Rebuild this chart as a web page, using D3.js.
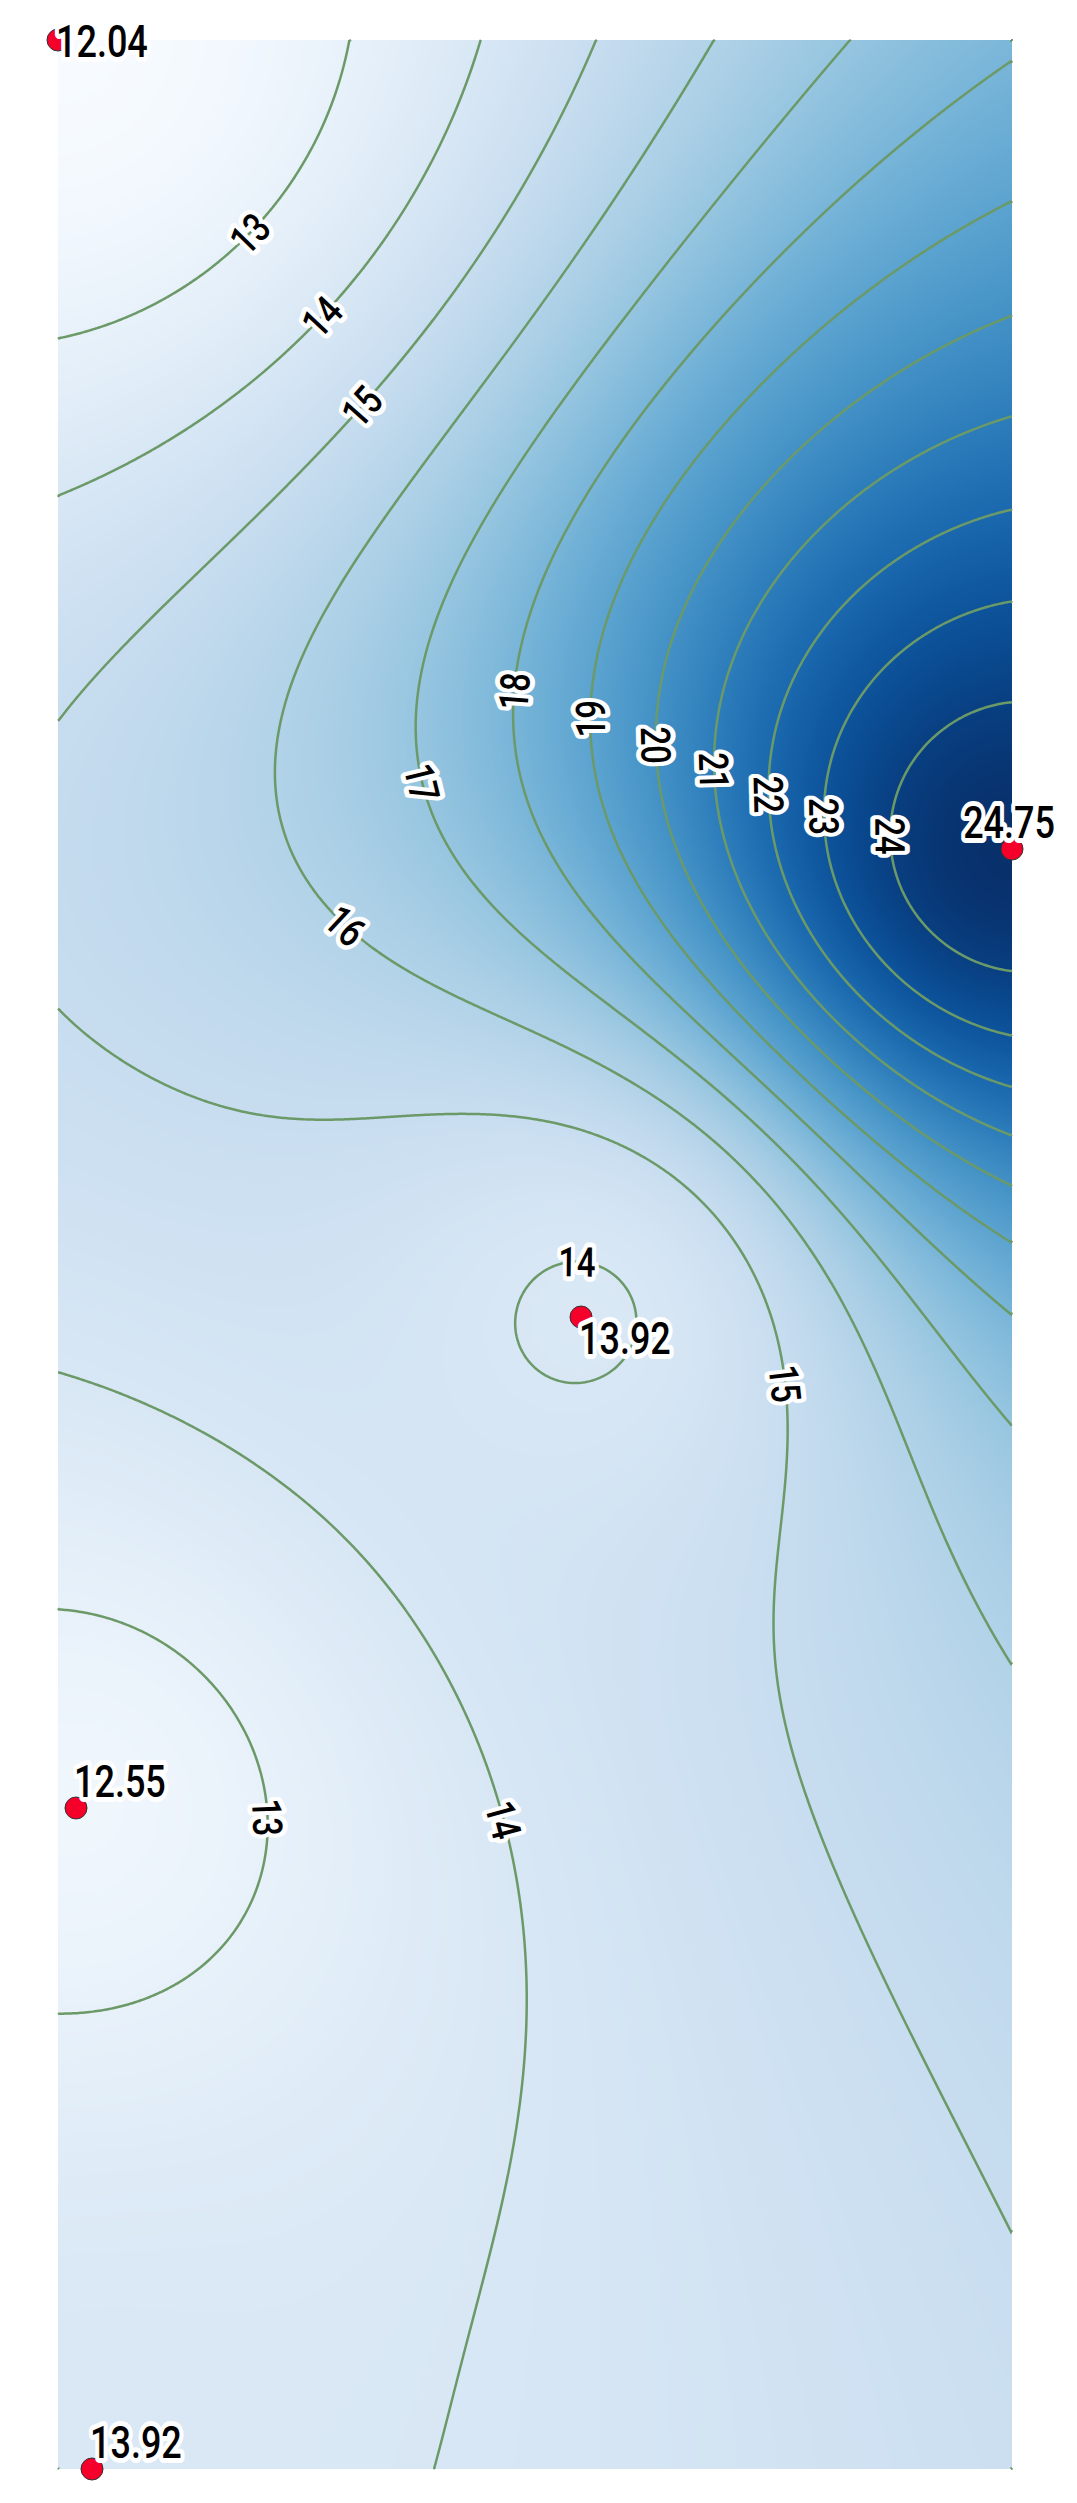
<!DOCTYPE html>
<html>
<head>
<meta charset="utf-8">
<script src="https://cdn.jsdelivr.net/npm/d3@7"></script>
<style>
body { margin: 0; background: #fff; }
svg { display: block; }
.lbl { font-family: "Roboto", "Noto Sans", sans-serif; font-weight: 500; }
</style>
</head>
<body>
<div id="chart"></div>
<script>
// station positions (grid units) and measured values
var stationX = [0, 95.4, 52.3, 1.8, 3.4];
var stationY = [0, 80.9, 127.7, 176.8, 242.9];
var stationValue = [12.04, 24.75, 13.92, 12.55, 13.92];
var levels = [13, 14, 15, 16, 17, 18, 19, 20, 21, 22, 23, 24];

var width = 1077, height = 2503;
var margin = {top: 40, right: 65, bottom: 34, left: 58};
var w = width - margin.left - margin.right,
    h = height - margin.top - margin.bottom;

var x = d3.scaleLinear().domain(d3.extent(stationX)).range([0, w]);
var y = d3.scaleLinear().domain(d3.extent(stationY)).range([0, h]);

var svg = d3.select("#chart").append("svg")
    .attr("width", width)
    .attr("height", height);
var g = svg.append("g")
    .attr("transform", "translate(" + margin.left + "," + margin.top + ")");

var px = stationX.map(function(d) { return x(d); });
var py = stationY.map(function(d) { return y(d); });

// inverse distance weighting, power 2
function idw(qx, qy) {
    var num = 0, den = 0;
    for (var i = 0; i < px.length; i++) {
        var ddx = qx - px[i], ddy = qy - py[i], d2 = ddx * ddx + ddy * ddy;
        if (d2 < 1e-9) return stationValue[i];
        num += stationValue[i] / d2;
        den += 1 / d2;
    }
    return num / den;
}

var cell = 2;
var nx = Math.ceil(w / cell), ny = Math.ceil(h / cell);
var sx = w / nx, sy = h / ny;
var grid = new Array(nx * ny);
for (var j = 0; j < ny; j++) {
    for (var i = 0; i < nx; i++) {
        grid[j * nx + i] = idw((i + 0.5) * sx, (j + 0.5) * sy);
    }
}

// raster background
var ext = d3.extent(stationValue);
var color = d3.scaleSequential(d3.interpolateBlues).domain(ext);
var lut = d3.range(1024).map(function(k) {
    return d3.rgb(color(ext[0] + (ext[1] - ext[0]) * k / 1023));
});
var canvas = document.createElement("canvas");
canvas.width = nx; canvas.height = ny;
var ctx = canvas.getContext("2d");
var img = ctx.createImageData(nx, ny);
for (var k = 0; k < grid.length; k++) {
    var t = (grid[k] - ext[0]) / (ext[1] - ext[0]);
    var c = lut[Math.max(0, Math.min(1023, Math.round(t * 1023)))];
    img.data[4 * k] = c.r;
    img.data[4 * k + 1] = c.g;
    img.data[4 * k + 2] = c.b;
    img.data[4 * k + 3] = 255;
}
ctx.putImageData(img, 0, 0);

g.append("image")
    .attr("href", canvas.toDataURL())
    .attr("width", w)
    .attr("height", h)
    .attr("preserveAspectRatio", "none");

// contour rings -> open lines (drop the parts running along the grid edge)
var contours = d3.contours().size([nx, ny]).thresholds(levels)(grid);

function onEdge(a, b) {
    return (a[0] === 0 && b[0] === 0) || (a[0] === nx && b[0] === nx) ||
           (a[1] === 0 && b[1] === 0) || (a[1] === ny && b[1] === ny);
}

function splitRing(ring) {
    var pts = ring.slice();
    var f = pts[0], l = pts[pts.length - 1];
    if (f[0] !== l[0] || f[1] !== l[1]) pts.push(f);
    var n = pts.length - 1;
    var cut = -1;
    for (var k = 0; k < n; k++) if (onEdge(pts[k], pts[k + 1])) { cut = k; break; }
    if (cut < 0) return [{pts: pts, closed: true}];
    var pieces = [], cur = [];
    for (var s = 0; s < n; s++) {
        var kk = (cut + 1 + s) % n;
        var a = pts[kk], b = pts[kk + 1];
        if (onEdge(a, b)) {
            if (cur.length > 1) pieces.push({pts: cur, closed: false});
            cur = [];
        } else {
            if (!cur.length) cur.push(a);
            cur.push(b);
        }
    }
    if (cur.length > 1) pieces.push({pts: cur, closed: false});
    return pieces;
}

var lines = [];
contours.forEach(function(cn) {
    cn.coordinates.forEach(function(poly) {
        poly.forEach(function(ring) {
            splitRing(ring).forEach(function(p) {
                p.value = cn.value;
                p.pts = p.pts.map(function(q) { return [q[0] * sx, q[1] * sy]; });
                lines.push(p);
            });
        });
    });
});

var line = d3.line();
g.append("g")
    .selectAll("path")
    .data(lines)
    .enter()
    .append("path")
    .attr("d", function(d) { return line(d.pts) + (d.closed ? "Z" : ""); })
    .style("fill", "none")
    .style("stroke", "#6b9a68")
    .style("stroke-width", 2.5);

// label position: middle of the line (top for closed loops)
function pointAt(pts, cum, s) {
    var i = d3.bisectLeft(cum, s);
    if (i <= 0) return pts[0];
    if (i >= pts.length) return pts[pts.length - 1];
    var t = (s - cum[i - 1]) / ((cum[i] - cum[i - 1]) || 1);
    return [pts[i - 1][0] + t * (pts[i][0] - pts[i - 1][0]), pts[i - 1][1] + t * (pts[i][1] - pts[i - 1][1])];
}

var labels = [];
lines.forEach(function(d) {
    var pts = d.pts;
    if (d.closed) {
        var top = d3.minIndex(pts, function(p) { return p[1]; });
        pts = pts.slice(top, pts.length - 1).concat(pts.slice(0, top + 1));
    }
    var cum = [0];
    for (var i = 1; i < pts.length; i++) {
        cum.push(cum[i - 1] + Math.hypot(pts[i][0] - pts[i - 1][0], pts[i][1] - pts[i - 1][1]));
    }
    var len = cum[cum.length - 1];
    if (len < 80) return;
    var mid = d.closed ? 0 : len / 2;
    var p = pointAt(pts, cum, mid);
    var p0 = d.closed ? pointAt(pts, cum, len - 12) : pointAt(pts, cum, mid - 12);
    var p1 = pointAt(pts, cum, mid + 12);
    var a = Math.atan2(p1[1] - p0[1], p1[0] - p0[0]) * 180 / Math.PI;
    if (a > 90) a -= 180;
    if (a <= -90) a += 180;
    labels.push({x: p[0], y: p[1], angle: a, text: d.value});
});

var contourFont = 41, contourSqueeze = 0.8;
var lab = g.append("g")
    .selectAll("text")
    .data(labels)
    .enter()
    .append("text")
    .attr("class", "lbl")
    .attr("transform", function(d) {
        return "translate(" + d.x + "," + d.y + ")rotate(" + d.angle + ")scale(" + contourSqueeze + ",1)";
    })
    .attr("text-anchor", "middle")
    .attr("dy", "0.36em")
    .style("font-size", contourFont + "px")
    .style("fill", "#000")
    .style("stroke", "#fff")
    .style("stroke-width", 10)
    .style("stroke-linejoin", "round")
    .style("paint-order", "stroke")
    .text(function(d) { return d.text; });

// boxes of contour labels, used to keep station labels clear of them
var boxes = [];
lab.each(function(d) {
    var L = this.getComputedTextLength() * contourSqueeze + 8, H = contourFont * 0.72 + 8;
    var r = d.angle * Math.PI / 180, cs = Math.abs(Math.cos(r)), sn = Math.abs(Math.sin(r));
    var hw = (cs * L + sn * H) / 2, hh = (sn * L + cs * H) / 2;
    boxes.push([d.x - hw, d.y - hh, d.x + hw, d.y + hh]);
});

// stations
g.append("g")
    .selectAll("circle")
    .data(stationValue)
    .enter()
    .append("circle")
    .attr("cx", function(d, i) { return px[i]; })
    .attr("cy", function(d, i) { return py[i]; })
    .attr("r", 11)
    .style("fill", "#f4002a")
    .style("stroke", "#333")
    .style("stroke-width", 1);

var pointFont = 45, pointSqueeze = 0.8;
var capH = pointFont * 0.71;
var pointLabels = g.append("g");
stationValue.forEach(function(v, i) {
    var t = pointLabels.append("text")
        .attr("class", "lbl")
        .style("font-size", pointFont + "px")
        .style("fill", "#000")
        .style("stroke", "#fff")
        .style("stroke-width", 10)
        .style("stroke-linejoin", "round")
        .style("paint-order", "stroke")
        .text(v.toFixed(2));
    var tw = t.node().getComputedTextLength() * pointSqueeze;
    var cands = [[px[i] - 2, py[i] - 11], [px[i] - 2, py[i] + 37]];
    var pos = null;
    for (var c = 0; c < cands.length; c++) {
        var tx = Math.min(cands[c][0], width - margin.left - 22 - tw);
        var ty = Math.max(cands[c][1], 25 - margin.top + capH);
        var b = [tx - 4, ty - capH - 4, tx + tw + 4, ty + 4];
        var hit = boxes.some(function(o) { return b[0] < o[2] && b[2] > o[0] && b[1] < o[3] && b[3] > o[1]; });
        if (!pos) pos = [tx, ty];
        if (!hit) { pos = [tx, ty]; break; }
    }
    t.attr("transform", "translate(" + pos[0] + "," + pos[1] + ")scale(" + pointSqueeze + ",1)");
});
</script>
</body>
</html>
